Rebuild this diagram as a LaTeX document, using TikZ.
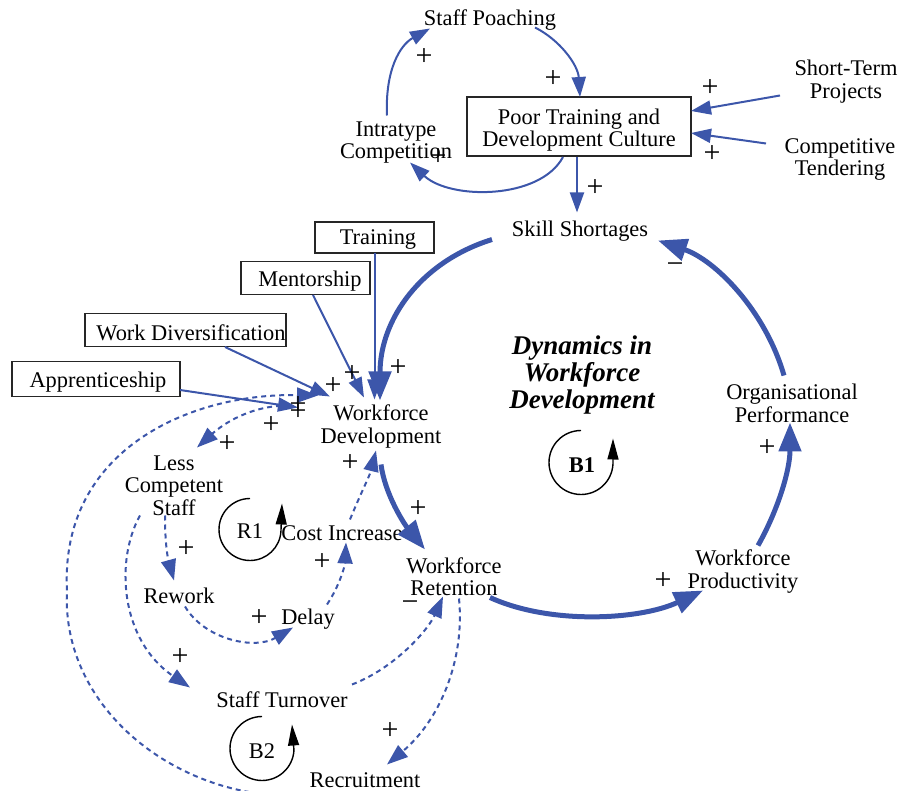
\documentclass[tikz,border=0pt]{standalone}
\usepackage{fontspec}
\setmainfont{Liberation Serif}
\usetikzlibrary{arrows.meta}
\definecolor{cldblue}{RGB}{60,86,170}
\newcommand{\fsmain}{\fontsize{22.4}{22.5}\selectfont}
\newcommand{\fssign}{\fontsize{30}{30}\selectfont}
\newcommand{\fstitle}{\fontsize{27}{27}\selectfont\bfseries\itshape}

\begin{document}
\begin{tikzpicture}[x=1pt,y=-1pt,
  lbl/.style={font=\fsmain, align=center, inner sep=0pt, yshift=-2.5pt},
  sbox/.style={inner sep=0pt, draw=black!85, line width=1.3pt},
  sgn/.style={font=\fssign, inner sep=0pt},
  lnk/.style={draw=cldblue, line width=2pt, -{Triangle[length=20pt,width=14pt]}},
  thk/.style={draw=cldblue, line width=5pt, -{Triangle[length=29pt,width=22pt]}},
  dsh/.style={draw=cldblue, line width=2pt, dash pattern=on 5pt off 4pt,
              -{Triangle[length=21pt,width=15pt]}},
  loopc/.style={draw=black, line width=1.4pt, -{Triangle[length=21pt,width=11pt]}},
]
\useasboundingbox (0,0) rectangle (903,791);
\clip (0,0) rectangle (903,791);

% ---- boxed variables (frame + caption) ----
\node[sbox, minimum width=224pt, minimum height=59pt] (ptd) at (579,126.5) {};
\node[lbl] (ptdtxt) at (579,127.5) {Poor Training and\\Development Culture};
\node[sbox, minimum width=119pt, minimum height=31pt] (tr)  at (374.5,237.5) {};
\node[lbl] (trtxt) at (378,237.5) {Training};
\node[sbox, minimum width=129pt, minimum height=33pt] (me)  at (305.5,278) {};
\node[lbl] (metxt) at (310,279) {Mentorship};
\node[sbox, minimum width=201pt, minimum height=33pt] (wdv) at (185.5,330) {};
\node[lbl] (wdvtxt) at (191,330) {Work Diversification};
\node[sbox, minimum width=168pt, minimum height=35pt] (ap)  at (96,379) {};
\node[lbl] (aptxt) at (98,379.5) {Apprenticeship};

% ---- plain variables ----
\node[lbl] (sp)  at (490,18)  {Staff Poaching};
\node[lbl] (ic)  at (396,140) {Intratype\\Competition};
\node[lbl] (stp) at (846,79)  {Short-Term\\Projects};
\node[lbl] (ct)  at (840,157) {Competitive\\Tendering};
\node[lbl] (ss)  at (580,229) {Skill Shortages};
\node[lbl] (wd)  at (381,424) {Workforce\\Development};
\node[lbl] (lcs) at (174,483) {Less\\Competent\\Staff};
\node[lbl] (rw)  at (179,593) {Rework};
\node[lbl] (ci)  at (342,531) {Cost Increase};
\node[lbl] (dl)  at (308,617) {Delay};
\node[lbl] (stt) at (282,697) {Staff Turnover};
\node[lbl] (rec) at (365,778) {Recruitment};
\node[lbl] (wr)  at (454,574) {Workforce\\Retention};
\node[lbl] (wp)  at (743,569) {Workforce\\Productivity};
\node[lbl] (op)  at (792,401) {Organisational\\Performance};

\node[font=\fstitle, align=center, inner sep=0pt] (title) at (582,375)
      {Dynamics in\\Workforce\\Development};

% ---- loop markers ----
\node[lbl] (r1) at (250,529) {R1};
\node[lbl, font=\fsmain\bfseries] (b1) at (582,463) {B1};
\node[lbl] (b2) at (262,749) {B2};
\draw[loopc] ([shift={(0,-33)}]r1.center) arc[start angle=-90, end angle=-357, radius=31]
      -- ([shift={(32,-28)}]r1.center);
\draw[loopc] ([shift={(-1,-35)}]b1.center) arc[start angle=-90, end angle=-357, radius=32]
      -- ([shift={(31,-27)}]b1.center);
\draw[loopc] ([shift={(0,-35)}]b2.center) arc[start angle=-90, end angle=-357, radius=32]
      -- ([shift={(30,-27)}]b2.center);

% ---- upper cluster ----
\draw[lnk] ([shift={(-9,-27)}]ic.center) .. controls (385,70) and (400,45) .. ([shift={(-60,8)}]sp.center);
\draw[lnk] ([shift={(45,7)}]sp.center) .. controls (560,40) and (578,65) .. ([shift={(1,-29.5)}]ptd.center);
\draw[lnk] ([shift={(-16,30.5)}]ptd.center) .. controls (540,200) and (450,200) .. ([shift={(14,20)}]ic.center);
\draw[lnk] ([shift={(-2,30.5)}]ptd.center) -- ([shift={(-3,-19)}]ss.center);
\draw[lnk] ([shift={(-66,14)}]stp.center) -- ([shift={(112,-15.5)}]ptd.center);
\draw[lnk] ([shift={(-74,-16)}]ct.center) -- ([shift={(112,6.5)}]ptd.center);

% ---- main balancing loop ----
\draw[thk] ([shift={(-88,8)}]ss.center) .. controls (420,262) and (380,320) .. ([shift={(-1,-26)}]wd.center);
\draw[thk] ([shift={(0,38)}]wd.center) .. controls (385,495) and (405,525) .. ([shift={(-29,-27)}]wr.center);
\draw[thk] ([shift={(36,21)}]wr.center) .. controls (550,625) and (640,620) .. ([shift={(-40,19)}]wp.center);
\draw[thk] ([shift={(15,-26)}]wp.center) .. controls (778,510) and (790,470) .. ([shift={(-2,19)}]op.center);
\draw[thk] ([shift={(-8,-28)}]op.center) .. controls (765,310) and (715,260) .. ([shift={(78,9)}]ss.center);

% ---- interventions ----
\draw[lnk] ([shift={(0,15.5)}]tr.center) -- ([shift={(-6.5,-27)}]wd.center);
\draw[lnk] ([shift={(7.5,17)}]me.center) -- ([shift={(-17,-29)}]wd.center);
\draw[lnk] ([shift={(39.5,17)}]wdv.center) -- ([shift={(-51,-30)}]wd.center);
\draw[lnk] ([shift={(84,11)}]ap.center) -- ([shift={(-83,-19)}]wd.center);

% ---- delayed links ----
\draw[dsh] ([shift={(-35,12)}]rec.center) .. controls (200,815) and (60,720) .. (67,590)
      .. controls (60,450) and (190,393) .. ([shift={(-63,-31)}]wd.center);
\draw[dsh] ([shift={(-91,-21)}]wd.center) .. controls (250,405) and (222,425) .. ([shift={(23,-38)}]lcs.center);
\draw[dsh] ([shift={(-9,30)}]lcs.center) .. controls (165,540) and (167,555) .. ([shift={(-5,-15)}]rw.center);
\draw[dsh] ([shift={(-34,30)}]lcs.center) .. controls (115,560) and (120,640) .. ([shift={(-92,-12)}]stt.center);
\draw[dsh] ([shift={(6,11)}]rw.center) .. controls (205,640) and (255,650) .. ([shift={(-15,8)}]dl.center);
\draw[dsh] ([shift={(19,-15)}]dl.center) .. controls (340,585) and (345,565) .. ([shift={(4,9)}]ci.center);
\draw[dsh] ([shift={(8,-14)}]ci.center) .. controls (360,495) and (370,475) .. ([shift={(-5,24)}]wd.center);
\draw[dsh] ([shift={(70,-15)}]stt.center) .. controls (395,668) and (428,630) .. ([shift={(-11,20)}]wr.center);
\draw[dsh] ([shift={(5,22)}]wr.center) .. controls (465,660) and (440,720) .. ([shift={(22,-16)}]rec.center);

% ---- polarities ----
\foreach \p [count=\i] in {(424,57),(553,79),(438,157),(595,188),(710,88),(712,154),
    (398,368),(767,448),(663,581),(418,509),(352,374),(333,386),(298,405),(298,412),
    (271,425),(227,444),(350,463),(186,549),(322,562),(259,618),(180,657),(390,731)}
  \node[sgn] (pos\i) at \p {+};
\foreach \p [count=\i] in {(675,268),(410,606)}
  \node[sgn] (neg\i) at \p {−};
\end{tikzpicture}
\end{document}
